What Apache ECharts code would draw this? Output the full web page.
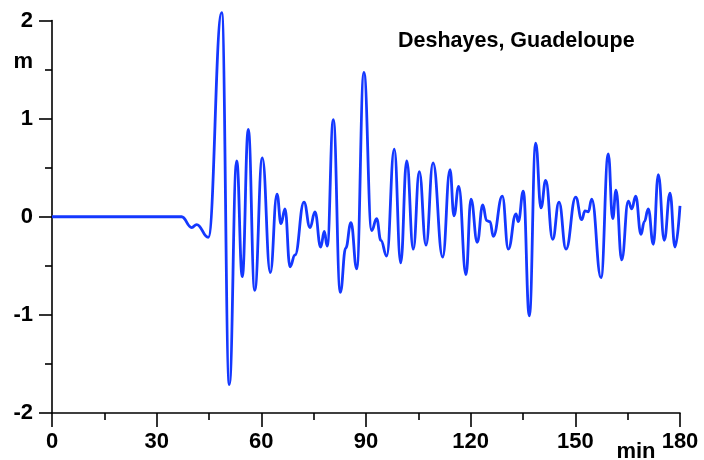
<!DOCTYPE html>
<html>
<head>
<meta charset="utf-8">
<script src="https://cdn.jsdelivr.net/npm/echarts@6/dist/echarts.min.js"></script>
<style>
html,body{margin:0;padding:0;background:#fff;}
#chart{width:704px;height:460px;}
</style>
</head>
<body>
<div id="chart"></div>
<script>
// Time (min) of each turning point of the record
var times = [0, 37.15, 40.04, 41.47, 44.80, 48.64, 50.82, 52.94, 54.54, 56.26, 58.10,
  60.28, 62.57, 64.49, 65.64, 66.78, 68.22, 69.65, 72.23, 73.95, 75.38,
  77.01, 78.05, 78.88, 80.63, 82.64, 84.18, 85.70, 87.33, 89.40, 91.63,
  93.04, 94.27, 95.93, 98.10, 99.95, 101.67, 103.56, 105.28, 107.20, 109.21,
  111.98, 114.08, 115.22, 116.57, 118.66, 120.09, 121.90, 123.45, 124.60, 125.55,
  126.49, 129.07, 130.79, 132.99, 133.65, 135.09, 136.81, 138.64, 140.16, 141.51,
  143.51, 145.32, 147.33, 150.11, 151.83, 152.77, 153.72, 154.69, 157.36, 159.45,
  160.71, 161.66, 163.29, 165.18, 166.16, 167.30, 168.82, 169.77, 170.91, 172.35,
  173.78, 175.50, 177.13, 178.57, 180];
// Sea level (m)
var levels = [0, 0, -0.11, -0.08, -0.21, 2.08, -1.71, 0.57, -0.61, 0.89, -0.75,
  0.60, -0.57, 0.23, -0.07, 0.08, -0.51, -0.39, 0.15, -0.11, 0.05,
  -0.31, -0.15, -0.30, 0.99, -0.77, -0.32, -0.06, -0.53, 1.47, -0.14,
  -0.02, -0.24, -0.40, 0.69, -0.47, 0.57, -0.33, 0.46, -0.29, 0.55,
  -0.41, 0.48, 0.01, 0.31, -0.59, 0.18, -0.26, 0.12, -0.04, -0.05,
  -0.20, 0.21, -0.33, 0.03, -0.05, 0.26, -1.01, 0.75, 0.09, 0.37,
  -0.23, 0.15, -0.33, 0.20, -0.03, 0.06, 0.05, 0.18, -0.62, 0.64,
  -0.02, 0.27, -0.44, 0.16, 0.08, 0.21, -0.18, -0.05, 0.08, -0.28,
  0.43, -0.24, 0.24, -0.31, 0.11];
var xTicks = [0, 30, 60, 90, 120, 150, 180];
var yTicks = [-2, -1, 0, 1, 2];
var titleText = 'Deshayes, Guadeloupe';
var xUnit = 'min';
var yUnit = 'm';

var seriesData = times.map(function (t, i) { return [t, levels[i]]; });
var FONT = '"Liberation Sans", Arial, sans-serif';

var chart = echarts.init(document.getElementById('chart'), null, {renderer: 'canvas'});
chart.setOption({
  animation: false,
  backgroundColor: '#ffffff',
  grid: {left: 52, right: 24, top: 20.5, bottom: 47, containLabel: false},
  xAxis: {
    type: 'value',
    min: xTicks[0], max: xTicks[xTicks.length - 1], interval: 30,
    axisLine: {show: true, onZero: false, lineStyle: {color: '#000', width: 1.6}},
    axisTick: {show: true, length: 14, lineStyle: {color: '#000', width: 1.6}},
    minorTick: {show: true, splitNumber: 2, length: 7, lineStyle: {color: '#000', width: 1.6}},
    splitLine: {show: false},
    axisLabel: {show: true, margin: 18, color: '#000', fontWeight: 'bold', fontSize: 22, fontFamily: FONT}
  },
  yAxis: {
    type: 'value',
    min: yTicks[0], max: yTicks[yTicks.length - 1], interval: 1,
    axisLine: {show: true, onZero: false, lineStyle: {color: '#000', width: 1.6}},
    axisTick: {show: true, length: 13, lineStyle: {color: '#000', width: 1.6}},
    minorTick: {show: true, splitNumber: 2, length: 7, lineStyle: {color: '#000', width: 1.6}},
    splitLine: {show: false},
    axisLabel: {show: true, margin: 19, color: '#000', fontWeight: 'bold', fontSize: 22, fontFamily: FONT}
  },
  series: [{
    type: 'line',
    data: seriesData,
    showSymbol: false,
    smooth: 0.45,
    smoothMonotone: 'x',
    lineStyle: {color: '#1438ff', width: 2.8},
    clip: false
  }],
  graphic: [
    {type: 'text', left: 398, top: 30,
      style: {text: titleText, fill: '#000', font: 'bold 21.5px ' + FONT}},
    {type: 'text', x: 33, y: 62,
      style: {text: yUnit, fill: '#000', font: 'bold 22px ' + FONT, align: 'right', verticalAlign: 'middle'}},
    {type: 'text', x: 636, y: 452,
      style: {text: xUnit, fill: '#000', font: 'bold 22px ' + FONT, align: 'center', verticalAlign: 'middle'}}
  ]
});
</script>
</body>
</html>
